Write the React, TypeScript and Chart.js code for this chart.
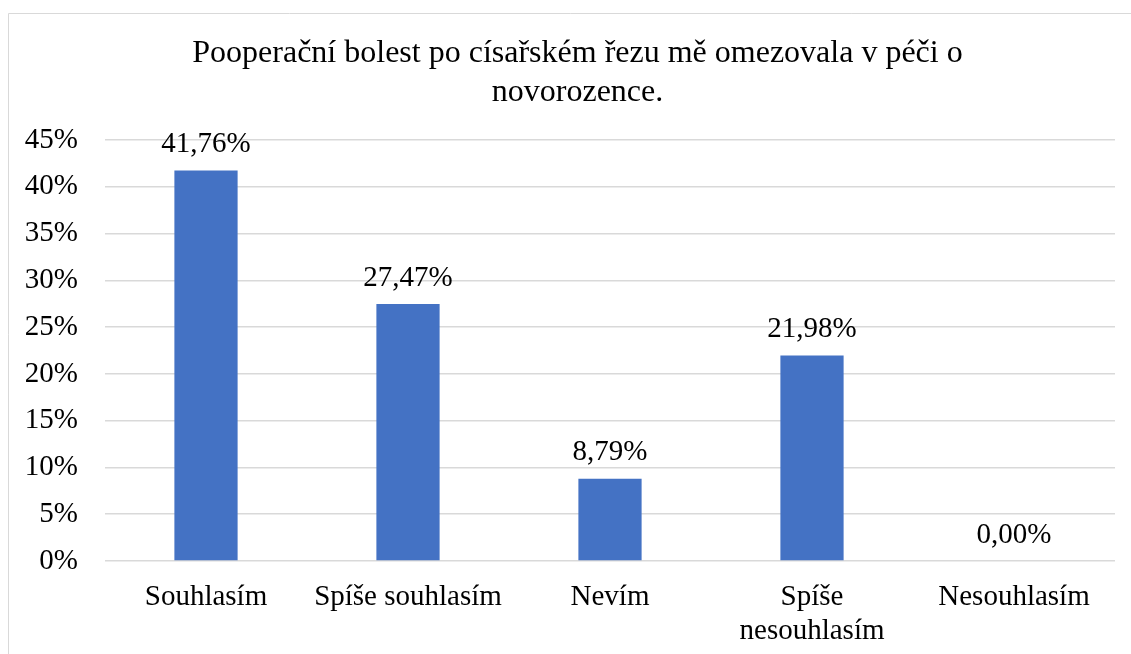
import React, { useEffect, useRef } from "react";
import { Chart, registerables } from "chart.js";

Chart.register(...registerables);

const categories: (string | string[])[] = [
  "Souhlasím",
  "Spíše souhlasím",
  "Nevím",
  ["Spíše", "nesouhlasím"],
  "Nesouhlasím",
];
const values: number[] = [41.76, 27.47, 8.79, 21.98, 0.0];
const valueLabels: string[] = ["41,76%", "27,47%", "8,79%", "21,98%", "0,00%"];
const titleLines: string[] = [
  "Pooperační bolest po císařském řezu mě omezovala v péči o",
  "novorozence.",
];

const FONT = "'Liberation Serif', 'Times New Roman', serif";

const frame = {
  id: "frame",
  beforeDraw(chart: any) {
    const ctx = chart.ctx;
    ctx.save();
    ctx.fillStyle = "#ffffff";
    ctx.fillRect(0, 0, chart.width, chart.height);
    ctx.strokeStyle = "#d9d9d9";
    ctx.lineWidth = 1;
    ctx.beginPath();
    ctx.moveTo(8.5, chart.height + 5);
    ctx.lineTo(8.5, 13.5);
    ctx.lineTo(chart.width + 5, 13.5);
    ctx.stroke();
    ctx.restore();
  },
};

// shift the title's horizontal box so it centres over the chart frame as in the reference
const titleShift = {
  id: "titleShift",
  afterLayout(chart: any) {
    if (chart.titleBlock) {
      chart.titleBlock.left = 40;
      chart.titleBlock.right = 1115;
    }
  },
};

const valueLabelPlugin = {
  id: "valueLabels",
  afterDatasetsDraw(chart: any) {
    const ctx = chart.ctx;
    const meta = chart.getDatasetMeta(0);
    ctx.save();
    ctx.font = `29px ${FONT}`;
    ctx.fillStyle = "#000000";
    ctx.textAlign = "center";
    ctx.textBaseline = "middle";
    meta.data.forEach((bar: any, i: number) => {
      ctx.fillText(valueLabels[i], bar.x, bar.y - 26);
    });
    ctx.restore();
  },
};

export default function App() {
  const ref = useRef<HTMLCanvasElement>(null);
  useEffect(() => {
    document.body.style.margin = "0";
    document.body.style.overflow = "hidden";
    const chart = new Chart(ref.current!, {
      type: "bar",
      data: {
        labels: categories,
        datasets: [
          {
            data: values,
            backgroundColor: "#4472C4",
            barPercentage: 0.313,
            categoryPercentage: 1,
          },
        ],
      },
      options: {
        animation: false,
        responsive: false,
        maintainAspectRatio: false,
        layout: { padding: { left: 15, right: 16, top: 0, bottom: 0 } },
        plugins: {
          legend: { display: false },
          tooltip: { enabled: false },
          title: {
            display: true,
            text: titleLines,
            color: "#000000",
            font: { family: FONT, size: 32, weight: "normal", lineHeight: 1.22 },
            padding: { top: 34, bottom: 28 },
          },
        },
        scales: {
          x: {
            grid: { display: false, drawTicks: false },
            border: { display: false },
            ticks: {
              color: "#000000",
              font: { family: FONT, size: 29, lineHeight: 1.17 },
              padding: 19,
              maxRotation: 0,
              autoSkip: false,
            },
            afterFit(scale: any) {
              scale.height = 93;
            },
          },
          y: {
            min: 0,
            max: 45,
            grid: { color: "#d9d9d9", lineWidth: 1.5, drawTicks: false },
            border: { display: false },
            ticks: {
              stepSize: 5,
              color: "#000000",
              padding: 27,
              font: { family: FONT, size: 29 },
              callback: (v: any) => `${v}%`,
            },
            afterFit(scale: any) {
              scale.width = 90;
            },
          },
        },
      },
      plugins: [frame, titleShift, valueLabelPlugin],
    });
    return () => chart.destroy();
  }, []);
  return (
    <div style={{ position: "fixed", left: 0, top: 0, width: 1131, height: 654 }}>
      <canvas ref={ref} width={1131} height={654} />
    </div>
  );
}
